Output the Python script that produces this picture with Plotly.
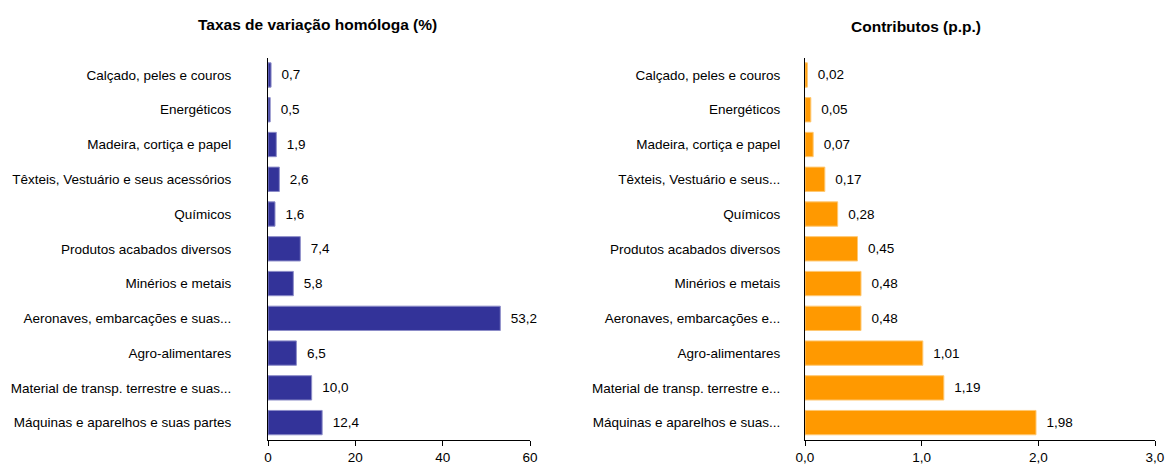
import plotly.graph_objects as go

cats_left = ["Calçado, peles e couros", "Energéticos", "Madeira, cortiça e papel",
             "Têxteis, Vestuário e seus acessórios", "Químicos", "Produtos acabados diversos",
             "Minérios e metais", "Aeronaves, embarcações e suas...", "Agro-alimentares",
             "Material de transp. terrestre e suas...", "Máquinas e aparelhos e suas partes"]
cats_right = ["Calçado, peles e couros", "Energéticos", "Madeira, cortiça e papel",
              "Têxteis, Vestuário e seus...", "Químicos", "Produtos acabados diversos",
              "Minérios e metais", "Aeronaves, embarcações e...", "Agro-alimentares",
              "Material de transp. terrestre e...", "Máquinas e aparelhos e suas..."]
taxas = [0.7, 0.5, 1.9, 2.6, 1.6, 7.4, 5.8, 53.2, 6.5, 10.0, 12.4]
contributos = [0.02, 0.05, 0.07, 0.17, 0.28, 0.45, 0.48, 0.48, 1.01, 1.19, 1.98]
left_ticks = [0, 20, 40, 60]
right_ticks = [0, 1, 2, 3]
right_ticktext = ["0,0", "1,0", "2,0", "3,0"]

font = "Liberation Sans, Arial, sans-serif"
fs = 13.5
idx = list(range(len(cats_left)))

fig = go.Figure()
fig.add_trace(go.Bar(
    x=taxas, y=idx, orientation="h", xaxis="x", yaxis="y",
    marker=dict(color="#333399", line=dict(color="#8c8cc8", width=1)),
    text=[f"{v:.1f}".replace(".", ",") for v in taxas],
    texttemplate="  %{text}", textposition="outside", cliponaxis=False,
    textfont=dict(family=font, size=fs, color="#000"),
    width=0.7, showlegend=False))
fig.add_trace(go.Bar(
    x=contributos, y=idx, orientation="h", xaxis="x2", yaxis="y2",
    marker=dict(color="#FF9900", line=dict(color="#ffc872", width=1)),
    text=[f"{v:.2f}".replace(".", ",") for v in contributos],
    texttemplate="  %{text}", textposition="outside", cliponaxis=False,
    textfont=dict(family=font, size=fs, color="#000"),
    width=0.7, showlegend=False))

ydom = [26 / 466, 408.4 / 466]
axis_common = dict(showline=True, linecolor="#000", linewidth=1, showgrid=False,
                   zeroline=False, automargin=False,
                   tickfont=dict(family=font, size=fs, color="#000"))
fig.update_layout(
    width=1165, height=466, margin=dict(l=0, r=0, t=0, b=0),
    paper_bgcolor="white", plot_bgcolor="white",
    font=dict(family=font, size=fs, color="#000"),
    xaxis=dict(domain=[268 / 1165, 530 / 1165], range=[0, 60], tickvals=left_ticks,
               ticks="outside", ticklen=5, tickcolor="#000", anchor="y", **axis_common),
    yaxis=dict(domain=ydom, range=[10.5, -0.5], tickvals=idx, ticktext=cats_left,
               ticks="", ticklabelstandoff=33, anchor="x", **axis_common),
    xaxis2=dict(domain=[805 / 1165, 1155 / 1165], range=[0, 3], tickvals=right_ticks,
                ticktext=right_ticktext, ticks="outside", ticklen=5, tickcolor="#000",
                anchor="y2", **axis_common),
    yaxis2=dict(domain=ydom, range=[10.5, -0.5], tickvals=idx, ticktext=cats_right,
                ticks="", ticklabelstandoff=21, anchor="x2", **axis_common),
    annotations=[
        dict(text="<b>Taxas de variação homóloga (%)</b>", x=317 / 1165, y=1 - 25 / 466,
             xref="paper", yref="paper", showarrow=False, xanchor="center", yanchor="middle",
             font=dict(family=font, size=15.5, color="#000")),
        dict(text="<b>Contributos (p.p.)</b>", x=916 / 1165, y=1 - 27 / 466,
             xref="paper", yref="paper", showarrow=False, xanchor="center", yanchor="middle",
             font=dict(family=font, size=15.5, color="#000")),
    ],
)
fig.write_html("out.html", config={"displayModeBar": False},
               post_script="document.body.style.margin='0px';")
